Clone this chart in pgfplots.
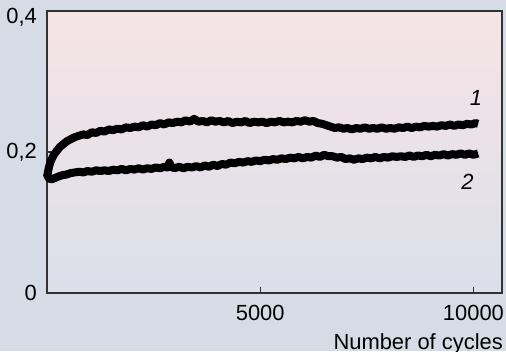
\documentclass[border=0pt]{standalone}
\usepackage{fontspec}
\setmainfont{Liberation Sans}
\usepackage{pgfplots}
\pgfplotsset{compat=1.18}
\definecolor{outerbg}{RGB}{214,220,230}
\definecolor{topbg}{RGB}{246,228,230}
\definecolor{botbg}{RGB}{219,223,233}
\definecolor{framec}{RGB}{50,50,50}
\begin{document}
\begin{tikzpicture}[x=1bp,y=1bp]
\fill[outerbg] (-47,-58) rectangle (459,293);
\begin{axis}[
  at={(0,0)}, anchor=south west,
  scale only axis, width=455bp, height=282bp,
  xmin=0, xmax=10670, ymin=0, ymax=0.4,
  axis line style={framec, line width=1.3bp},
  axis background/.style={top color=topbg, bottom color=botbg},
  font=\fontsize{22}{26}\selectfont,
  /pgf/number format/assume math mode=true,
  scaled x ticks=false, scaled y ticks=false,
  xtick={5000,10000}, xticklabels={5000,10000},
  ytick={0,0.2}, yticklabels={0,{0{,}2}},
  extra y ticks={0.4}, extra y tick labels={{0{,}4}},
  extra y tick style={yticklabel style={yshift=-6bp}},
  tick align=inside, major tick length=6bp,
  tick style={framec, line width=1.2bp},
  xtick pos=bottom, ytick pos=left,
  xticklabel style={inner sep=0pt, yshift=-12bp},
  yticklabel style={inner sep=0pt, xshift=-10bp},
  xlabel={Number of cycles},
  xlabel style={at={(axis description cs:1,0)}, anchor=north east, inner sep=0pt, yshift=-40bp, xshift=1bp},
  clip=false,
]
\addplot[black, line width=8bp, line join=round] coordinates {
(0,0.165) (40,0.177) (80,0.186) (150,0.195) (220,0.201) (300,0.207) (380,0.211) (460,0.215)
(550,0.218) (650,0.221) (750,0.223) (850,0.225) (950,0.224) (1050,0.228) (1150,0.227) (1250,0.230)
(1350,0.229) (1450,0.232) (1550,0.231) (1650,0.233) (1750,0.232) (1850,0.235) (1950,0.234) (2050,0.236)
(2150,0.235) (2250,0.238) (2350,0.236) (2450,0.239) (2550,0.238) (2650,0.241) (2750,0.239) (2850,0.242)
(2950,0.241) (3050,0.243) (3150,0.242) (3250,0.245) (3350,0.243) (3450,0.247) (3550,0.243) (3650,0.244)
(3750,0.242) (3850,0.245) (3950,0.243) (4050,0.244) (4150,0.242) (4250,0.244) (4350,0.241) (4450,0.243)
(4550,0.242) (4650,0.244) (4750,0.241) (4850,0.243) (4950,0.242) (5050,0.243) (5150,0.241) (5250,0.243)
(5350,0.242) (5450,0.244) (5550,0.242) (5650,0.243) (5750,0.242) (5850,0.244) (5950,0.243) (6050,0.245)
(6150,0.243) (6250,0.244) (6350,0.241) (6450,0.240) (6550,0.238) (6650,0.236) (6750,0.234) (6850,0.235)
(6950,0.233) (7050,0.234) (7150,0.232) (7250,0.234) (7350,0.233) (7450,0.235) (7550,0.233) (7650,0.234)
(7750,0.233) (7850,0.235) (7950,0.233) (8050,0.234) (8150,0.233) (8250,0.235) (8350,0.234) (8450,0.236)
(8550,0.234) (8650,0.236) (8750,0.235) (8850,0.237) (8950,0.236) (9050,0.237) (9150,0.236) (9250,0.238)
(9350,0.237) (9450,0.239) (9550,0.237) (9650,0.239) (9750,0.238) (9850,0.240) (9950,0.239) (10050,0.241)
(10110,0.240)
};
\addplot[black, line width=8bp, line join=round] coordinates {
(0,0.168) (40,0.163) (100,0.161) (180,0.163) (260,0.165) (350,0.167) (450,0.168) (550,0.170)
(650,0.171) (750,0.172) (850,0.171) (950,0.173) (1050,0.172) (1150,0.174) (1250,0.173) (1350,0.174)
(1450,0.173) (1550,0.175) (1650,0.174) (1750,0.176) (1850,0.174) (1950,0.176) (2050,0.175) (2150,0.177)
(2250,0.175) (2350,0.177) (2450,0.176) (2550,0.178) (2650,0.177) (2750,0.179) (2830,0.178) (2870,0.185)
(2910,0.179) (2990,0.177) (3100,0.179) (3200,0.177) (3300,0.179) (3400,0.178) (3500,0.180) (3600,0.178)
(3700,0.181) (3800,0.179) (3900,0.182) (4000,0.180) (4100,0.183) (4200,0.182) (4300,0.185) (4400,0.184)
(4500,0.186) (4600,0.185) (4700,0.187) (4800,0.186) (4900,0.188) (5000,0.187) (5100,0.189) (5200,0.188)
(5300,0.190) (5400,0.189) (5500,0.191) (5600,0.190) (5700,0.192) (5800,0.191) (5900,0.193) (6000,0.191)
(6100,0.193) (6200,0.192) (6300,0.195) (6400,0.193) (6500,0.196) (6600,0.194) (6700,0.194) (6800,0.192)
(6900,0.193) (7000,0.190) (7100,0.191) (7200,0.189) (7300,0.191) (7400,0.190) (7500,0.192) (7600,0.191)
(7700,0.193) (7800,0.191) (7900,0.193) (8000,0.192) (8100,0.194) (8200,0.193) (8300,0.194) (8400,0.193)
(8500,0.195) (8600,0.193) (8700,0.195) (8800,0.194) (8900,0.196) (9000,0.194) (9100,0.196) (9200,0.195)
(9300,0.197) (9400,0.195) (9500,0.197) (9600,0.196) (9700,0.198) (9800,0.196) (9900,0.198) (10000,0.196)
(10110,0.198)
};
\node[font=\fontsize{22}{26}\selectfont\itshape, inner sep=0pt] at (axis cs:10060,0.277) {1};
\node[font=\fontsize{22}{26}\selectfont\itshape, inner sep=0pt] at (axis cs:9860,0.157) {2};
\end{axis}
\pgfresetboundingbox
\useasboundingbox (-47,-58) rectangle (459,293);
\end{tikzpicture}
\end{document}
